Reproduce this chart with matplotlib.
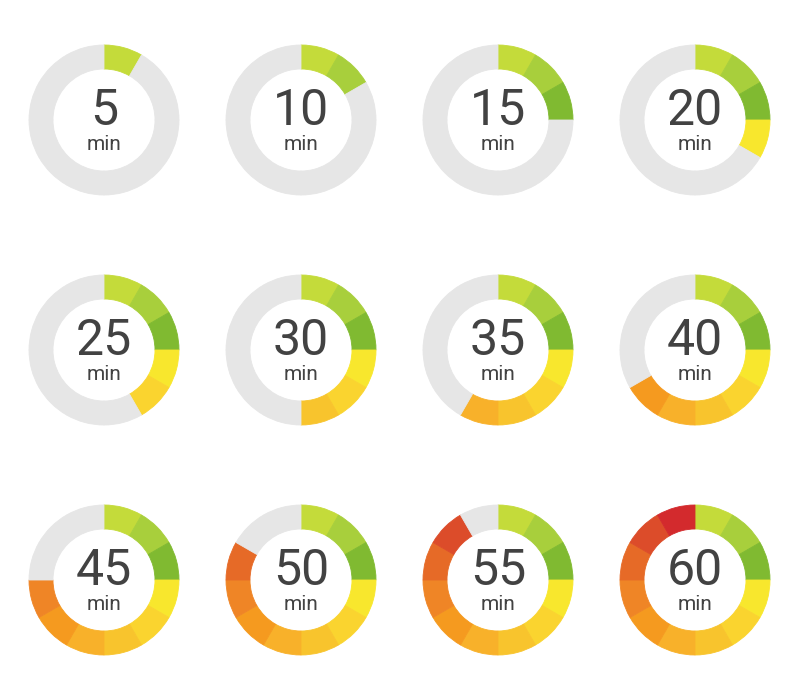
#!/usr/bin/env python3

import matplotlib

matplotlib.use("Agg")

import matplotlib.pyplot as plt


OUTPUT_FILENAME = "out.png"

# Timer values shown in the grid, left to right, top to bottom.
MINUTES = [5, 10, 15, 20, 25, 30, 35, 40, 45, 50, 55, 60]

# One 5-minute step per ring segment.
STEP_MINUTES = [5] * 12

# Segment colours going clockwise from 12 o'clock.
STEP_COLORS = [
    "#c4db3a", "#a8cf3c", "#80ba31", "#f8e72d",
    "#fad42f", "#f8c42d", "#f8b12a", "#f59a1f",
    "#ef8526", "#e66a27", "#dc4c2a", "#d32a2d",
]

EMPTY_COLOR = "#e6e6e6"
TEXT_COLOR = "#424242"

# Pixel layout of the grid (800 x 700 figure).
COLUMN_CENTERS = [104, 301, 498, 695]
ROW_CENTERS = [120, 350, 580]
RING_RADIUS_PX = 75


def draw_timer(fig, cx, cy, minutes):
    """Draw one donut timer centred at pixel (cx, cy)."""

    width, height = 800, 700
    size = 2 * RING_RADIUS_PX
    ax = fig.add_axes([
        (cx - RING_RADIUS_PX) / width,
        1 - (cy + RING_RADIUS_PX) / height,
        size / width,
        size / height,
    ])

    filled = minutes // 5
    colors = [
        color if i < filled else EMPTY_COLOR
        for i, color in enumerate(STEP_COLORS)
    ]

    wedges, _ = ax.pie(
        STEP_MINUTES,
        colors=colors,
        startangle=90,
        counterclock=False,
        radius=1.0,
        wedgeprops={"width": 0.32, "linewidth": 0.6},
    )
    # Edge in the same colour hides hairline gaps between segments.
    for wedge, color in zip(wedges, colors):
        wedge.set_edgecolor(color)

    ax.set_xlim(-1, 1)
    ax.set_ylim(-1, 1)
    ax.set_aspect("equal")
    ax.axis("off")

    ax.text(
        0, 0.12, str(minutes),
        ha="center", va="center",
        fontsize=36, color=TEXT_COLOR,
        family="Roboto",
    )
    ax.text(
        0, -0.33, "min",
        ha="center", va="center",
        fontsize=15, color=TEXT_COLOR,
        family="Roboto",
    )


def main() -> int:
    fig = plt.figure(figsize=(8, 7), dpi=100)
    fig.patch.set_facecolor("white")

    for index, minutes in enumerate(MINUTES):
        row, column = divmod(index, 4)
        draw_timer(
            fig,
            COLUMN_CENTERS[column],
            ROW_CENTERS[row],
            minutes,
        )

    fig.savefig(OUTPUT_FILENAME, dpi=100, facecolor="white")
    plt.close(fig)
    return 0


if __name__ == "__main__":
    raise SystemExit(main())
